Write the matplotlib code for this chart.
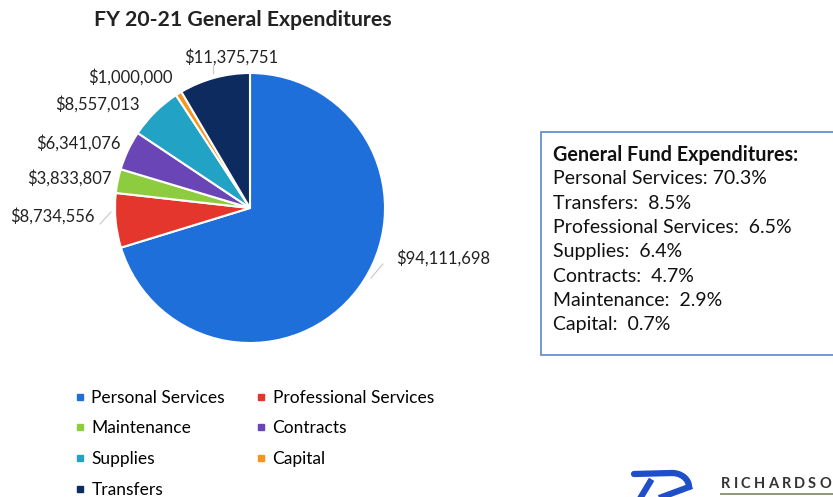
import matplotlib.pyplot as plt
from matplotlib.lines import Line2D
from matplotlib.patches import Rectangle
import numpy as np

plt.rcParams['font.family'] = ['Lato', 'DejaVu Sans']

categories = ["Personal Services", "Professional Services", "Maintenance",
              "Contracts", "Supplies", "Capital", "Transfers"]
amounts = [94111698, 8734556, 3833807, 6341076, 8557013, 1000000, 11375751]
colors = ["#1f6fda", "#e4362d", "#8dcc3e", "#6945b6", "#22a2c4", "#f7941d", "#0e2b5f"]

# order used in the summary box on the right
box_order = ["Personal Services", "Transfers", "Professional Services",
             "Supplies", "Contracts", "Maintenance", "Capital"]

W, H = 833, 497
fig = plt.figure(figsize=(W / 100, H / 100), dpi=100)

# overlay axes in pixel units for text and decorations
bg = fig.add_axes([0, 0, 1, 1])
bg.set_xlim(0, W)
bg.set_ylim(H, 0)
bg.axis('off')

# pie axes: centre (250, 208), radius 135 px
cx, cy, r = 250, 208, 135
pax = fig.add_axes([(cx - r) / W, (H - cy - r) / H, 2 * r / W, 2 * r / H])
wedges, _ = pax.pie(amounts, colors=colors, startangle=90, counterclock=False,
                    radius=1.0, wedgeprops=dict(edgecolor='white', linewidth=1.5))
pax.set_xlim(-1, 1)
pax.set_ylim(-1, 1)
pax.set_aspect('equal')
pax.axis('off')

bg.text(243, 20, "FY 20-21 General Expenditures", fontsize=15.3, fontweight='bold',
        ha='center', va='center', color='#222222')

# data labels with short leader lines
label_pos = {
    "Personal Services": (396, 258, 'left'),
    "Professional Services": (95, 216, 'right'),
    "Maintenance": (112, 178, 'right'),
    "Contracts": (121, 143, 'right'),
    "Supplies": (140, 104, 'right'),
    "Capital": (173, 77, 'right'),
    "Transfers": (231, 57, 'center'),
}
for name, amt in zip(categories, amounts):
    x, y, ha = label_pos[name]
    bg.text(x, y, "${:,}".format(amt), fontsize=12, ha=ha, va='center', color='#222222')

leaders = [((383, 264), (371, 278)), ((100, 224), (111, 212)), ((213, 65), (213, 73))]
for (x0, y0), (x1, y1) in leaders:
    bg.plot([x0, x1], [y0, y1], color='#c8c8c8', lw=0.8)

# summary box
bg.add_patch(Rectangle((541, 132), 300, 223, facecolor='white', edgecolor='#5b87c9',
                       lw=1.2, clip_on=False))
total = sum(amounts)
bg.text(553, 155, "General Fund Expenditures:", fontsize=14.2, fontweight='bold',
        va='center', color='#111111')
for i, name in enumerate(box_order):
    pct = 100 * amounts[categories.index(name)] / total
    sep = " " if i == 0 else "  "
    bg.text(553, 179 + i * 24.3, "{}:{}{:.1f}%".format(name, sep, pct), fontsize=14,
            va='center', color='#111111')

# legend in two columns, row-major
handles = [Line2D([], [], marker='s', ls='', markersize=5, color=c) for c in colors]
idx = [0, 2, 4, 6, 1, 3, 5]
fig.legend([handles[i] for i in idx], [categories[i] for i in idx], ncol=2,
           loc='upper left', bbox_to_anchor=(60 / W, 1 - 374 / H), frameon=False,
           fontsize=12.5, handlelength=0.5, handletextpad=0.4, columnspacing=1.85,
           labelspacing=0.85)

# logo
blue = '#1f4fc8'
bg.plot([634, 672], [474, 473], color=blue, lw=4.5, solid_capstyle='round')
a = np.linspace(0, np.pi / 2, 20)
bg.plot(672 + 17 * np.sin(a), 473 + 14 * (1 - np.cos(a)), color=blue, lw=4.5,
        solid_capstyle='round')
bg.plot([689, 662], [487, 497], color=blue, lw=4.5)
bg.plot([650, 641], [482, 497], color=blue, lw=4.5)

# letter-spaced wordmark, runs off the right edge
renderer = fig.canvas.get_renderer()
x = 721
for ch in "RICHARDSON":
    t = bg.text(x, 484, ch, fontsize=10.5, fontweight='bold', va='center', color='#333333')
    x += t.get_window_extent(renderer).width + 3.2
bg.plot([721, 833], [494, 494], color='#8a9a7a', lw=1.4)

fig.savefig("out.png", dpi=100)
